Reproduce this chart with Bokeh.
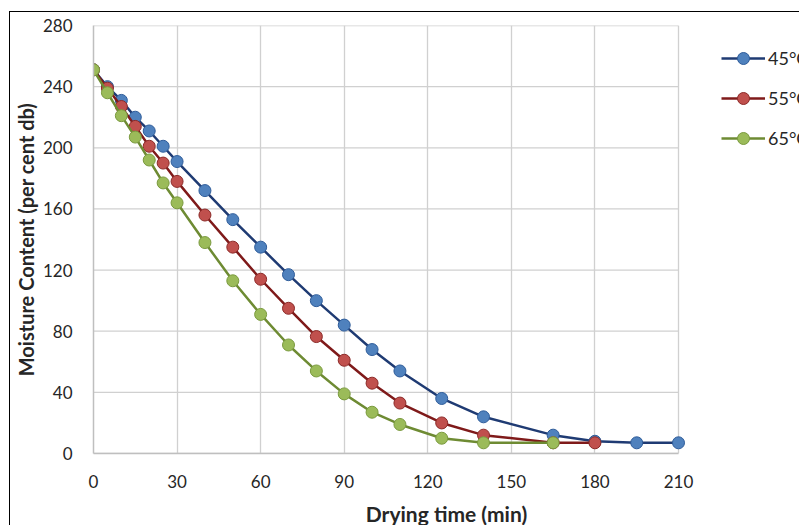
from bokeh.plotting import figure
from bokeh.models import Range1d, FixedTicker, Legend, LegendItem
from bokeh.embed import file_html
from bokeh.resources import INLINE

time_45 = [0, 5, 10, 15, 20, 25, 30, 40, 50, 60, 70, 80, 90, 100, 110, 125, 140, 165, 180, 195, 210]
mc_45 = [251, 240, 231, 220, 211, 201, 191, 172, 153, 135, 117, 100, 84, 68, 54, 36, 24, 12, 8, 7, 7]

time_55 = [0, 5, 10, 15, 20, 25, 30, 40, 50, 60, 70, 80, 90, 100, 110, 125, 140, 165, 180]
mc_55 = [251, 239, 227, 214, 201, 190, 178, 156, 135, 114, 95, 76.5, 61, 46, 33, 20, 12, 7, 7]

time_65 = [0, 5, 10, 15, 20, 25, 30, 40, 50, 60, 70, 80, 90, 100, 110, 125, 140, 165]
mc_65 = [251, 236, 221, 207, 192, 177, 164, 138, 113, 91, 71, 54, 39, 27, 19, 10, 7, 7]

x_ticks = [0, 30, 60, 90, 120, 150, 180, 210]
y_ticks = [0, 40, 80, 120, 160, 200, 240, 280]

series = [
    ("45°C", time_45, mc_45, "#1F3B73", "#4F81BD", "#2E5C9A"),
    ("55°C", time_55, mc_55, "#7F1A1A", "#C0504D", "#8C2A28"),
    ("65°C", time_65, mc_65, "#6E8B33", "#9BBB59", "#7A9A3E"),
]

FONT = "Lato"

# plot area of the data (0..210) is 585 px wide; the frame continues to the right
# edge so that the legend (outside the data area) is drawn inside the frame.
DATA_W = 585
FRAME_W = 706
FRAME_H = 428
x_lo, x_hi = x_ticks[0], x_ticks[-1]
x_end = x_lo + (x_hi - x_lo) * FRAME_W / DATA_W

p = figure(frame_width=FRAME_W, frame_height=FRAME_H, output_backend="svg", toolbar_location=None,
           x_range=Range1d(x_lo, x_end), y_range=Range1d(y_ticks[0], y_ticks[-1]),
           min_border_left=82, min_border_right=0, min_border_top=13, min_border_bottom=72)
p.styles = {"margin-left": "9px", "margin-top": "11px",
            "border-left": "1px solid black", "border-top": "1px solid black"}

p.outline_line_color = None
p.background_fill_color = "white"
p.border_fill_color = "white"

p.xaxis.ticker = FixedTicker(ticks=x_ticks)
p.yaxis.ticker = FixedTicker(ticks=y_ticks)
p.xaxis.bounds = (x_lo, x_hi)
for ax in (p.xaxis[0], p.yaxis[0]):
    ax.axis_line_color = "#BFBFBF"
    ax.axis_line_width = 1.5
    ax.major_tick_line_color = None
    ax.minor_tick_line_color = None
    ax.major_label_text_font = FONT
    ax.major_label_text_font_size = "17px"
    ax.major_label_text_color = "#262626"
    ax.axis_label_text_font = FONT
    ax.axis_label_text_font_style = "bold"
    ax.axis_label_text_color = "#262626"
p.xaxis.axis_label_text_font_size = "21px"
p.yaxis.axis_label_text_font_size = "20px"
p.xaxis.axis_label = "Drying time (min)"
p.yaxis.axis_label = "Moisture Content (per cent db)"
p.xaxis.major_label_standoff = 15
p.yaxis.major_label_standoff = 15
p.xaxis.axis_label_standoff = 10
p.yaxis.axis_label_standoff = 2

p.xgrid.grid_line_color = "#D0D0D0"
p.xgrid.grid_line_width = 1.3
p.ygrid.visible = False
# horizontal gridlines limited to the data area
p.segment(x0=[x_lo] * len(y_ticks), x1=[x_hi] * len(y_ticks), y0=y_ticks, y1=y_ticks,
          line_color="#D0D0D0", line_width=1.3, level="underlay")

items = []
for name, xs, ys, lc, fc, oc in series:
    r1 = p.line(xs, ys, line_color=lc, line_width=2.5)
    r2 = p.scatter(xs, ys, size=12, fill_color=fc, line_color=oc, line_width=1)
    items.append(LegendItem(label=name, renderers=[r1, r2]))

legend = Legend(items=items, location=(628, 300), margin=0, padding=0, spacing=10,
                glyph_width=44, glyph_height=30, label_height=30, label_standoff=3,
                label_text_font=FONT, label_text_font_size="18px", label_text_color="#262626",
                border_line_color=None, background_fill_alpha=0)
p.add_layout(legend, "center")

open("out.html", "w").write(file_html(p, INLINE))
